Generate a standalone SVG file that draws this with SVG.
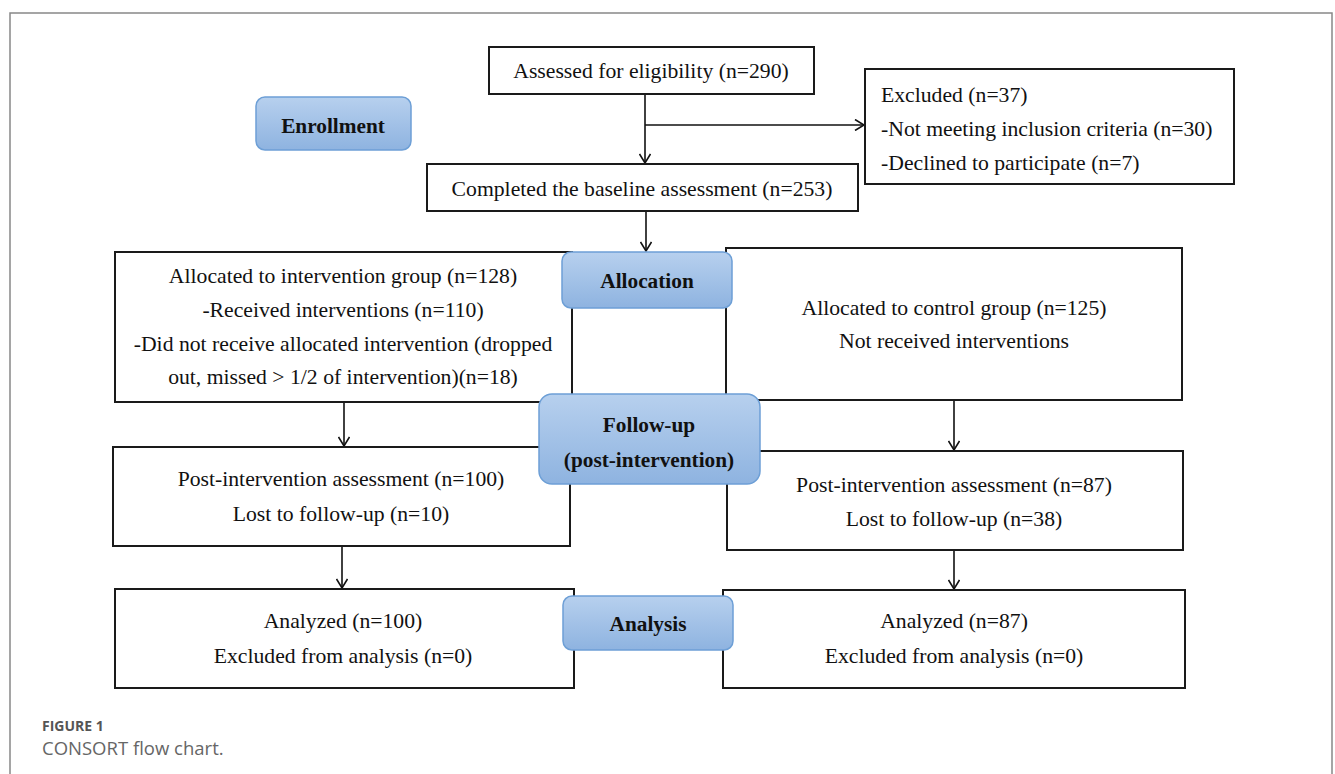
<svg xmlns="http://www.w3.org/2000/svg" width="1335" height="774" viewBox="0 0 1335 774">
<defs>
<linearGradient id="pillGrad" x1="0" y1="0" x2="0" y2="1">
<stop offset="0" stop-color="#b7d0ee"/>
<stop offset="1" stop-color="#8eb3e0"/>
</linearGradient>
<marker id="arr" markerWidth="12" markerHeight="12" refX="10" refY="6" orient="auto" markerUnits="userSpaceOnUse">
<path d="M1,0.5 L10,6 L1,11.5" fill="none" stroke="#111" stroke-width="1.6"/>
</marker>
<style>
.box{fill:#fff;stroke:#1a1a1a;stroke-width:2}
.pill{fill:url(#pillGrad);stroke:#6d9fd6;stroke-width:1.5}
.t{font-family:"Liberation Serif","Times New Roman",serif;font-size:21.7px;fill:#111}
.c{text-anchor:middle}
.b{font-weight:bold;font-size:21.3px}
.conn{stroke:#111;stroke-width:1.6;fill:none}
.cap1{font-family:"Open Sans","Lato",sans-serif;font-size:14px;font-weight:bold;fill:#555}
.cap2{font-family:"Open Sans","Lato",sans-serif;font-size:18.5px;fill:#666}
</style>
</defs>
<rect width="1335" height="774" fill="#fff"/>
<path d="M10,774 V13 H1332 V774" fill="none" stroke="#888" stroke-width="1.5"/>

<g id="connectors">
<line class="conn" x1="645" y1="94" x2="645" y2="163" marker-end="url(#arr)"/>
<line class="conn" x1="645" y1="125" x2="864" y2="125" marker-end="url(#arr)"/>
<line class="conn" x1="646" y1="211" x2="646" y2="251" marker-end="url(#arr)"/>
<line class="conn" x1="344" y1="402" x2="344" y2="446" marker-end="url(#arr)"/>
<line class="conn" x1="954" y1="400" x2="954" y2="450" marker-end="url(#arr)"/>
<line class="conn" x1="342" y1="546" x2="342" y2="588" marker-end="url(#arr)"/>
<line class="conn" x1="954" y1="550" x2="954" y2="589" marker-end="url(#arr)"/>
</g>

<g id="assessed">
<rect class="box" x="489" y="47" width="325" height="47"/>
<text class="t c" x="651" y="78">Assessed for eligibility (n=290)</text>
</g>
<g id="excluded">
<rect class="box" x="865" y="69" width="369" height="115"/>
<text class="t" x="881" y="102">Excluded (n=37)</text>
<text class="t" x="881" y="136">-Not meeting inclusion criteria (n=30)</text>
<text class="t" x="881" y="170">-Declined to participate (n=7)</text>
</g>
<g id="baseline">
<rect class="box" x="427" y="164" width="431" height="47"/>
<text class="t c" x="642" y="196">Completed the baseline assessment (n=253)</text>
</g>
<g id="intervention">
<rect class="box" x="115" y="252" width="457" height="150"/>
<text class="t c" x="343" y="283">Allocated to intervention group (n=128)</text>
<text class="t c" x="343" y="317">-Received interventions (n=110)</text>
<text class="t c" x="343" y="351">-Did not receive allocated intervention (dropped</text>
<text class="t c" x="343" y="384">out, missed &gt; 1/2 of intervention)(n=18)</text>
</g>
<g id="control">
<rect class="box" x="726" y="248" width="456" height="152"/>
<text class="t c" x="954" y="315">Allocated to control group (n=125)</text>
<text class="t c" x="954" y="348">Not received interventions</text>
</g>
<g id="post-left">
<rect class="box" x="113" y="447" width="457" height="99"/>
<text class="t c" x="341" y="486">Post-intervention assessment (n=100)</text>
<text class="t c" x="341" y="521">Lost to follow-up (n=10)</text>
</g>
<g id="post-right">
<rect class="box" x="727" y="451" width="456" height="99"/>
<text class="t c" x="954" y="492">Post-intervention assessment (n=87)</text>
<text class="t c" x="954" y="526">Lost to follow-up (n=38)</text>
</g>
<g id="analysis-left">
<rect class="box" x="115" y="589" width="459" height="99"/>
<text class="t c" x="343" y="628">Analyzed (n=100)</text>
<text class="t c" x="343" y="663">Excluded from analysis (n=0)</text>
</g>
<g id="analysis-right">
<rect class="box" x="723" y="590" width="462" height="98"/>
<text class="t c" x="954" y="628">Analyzed (n=87)</text>
<text class="t c" x="954" y="663">Excluded from analysis (n=0)</text>
</g>

<g id="enrollment">
<rect class="pill" x="256" y="97" width="155" height="53" rx="9"/>
<text class="t c b" x="333" y="133">Enrollment</text>
</g>
<g id="allocation">
<rect class="pill" x="562" y="252" width="170" height="56" rx="9"/>
<text class="t c b" x="647" y="288">Allocation</text>
</g>
<g id="followup">
<rect class="pill" x="539" y="394" width="221" height="90" rx="13"/>
<text class="t c b" x="649" y="432">Follow-up</text>
<text class="t c b" x="649" y="467">(post-intervention)</text>
</g>
<g id="analysis">
<rect class="pill" x="563" y="596" width="170" height="54" rx="9"/>
<text class="t c b" x="648" y="631">Analysis</text>
</g>

<g id="caption">
<text class="cap1" x="42" y="731">FIGURE 1</text>
<text class="cap2" x="42" y="755">CONSORT flow chart.</text>
</g>
</svg>
